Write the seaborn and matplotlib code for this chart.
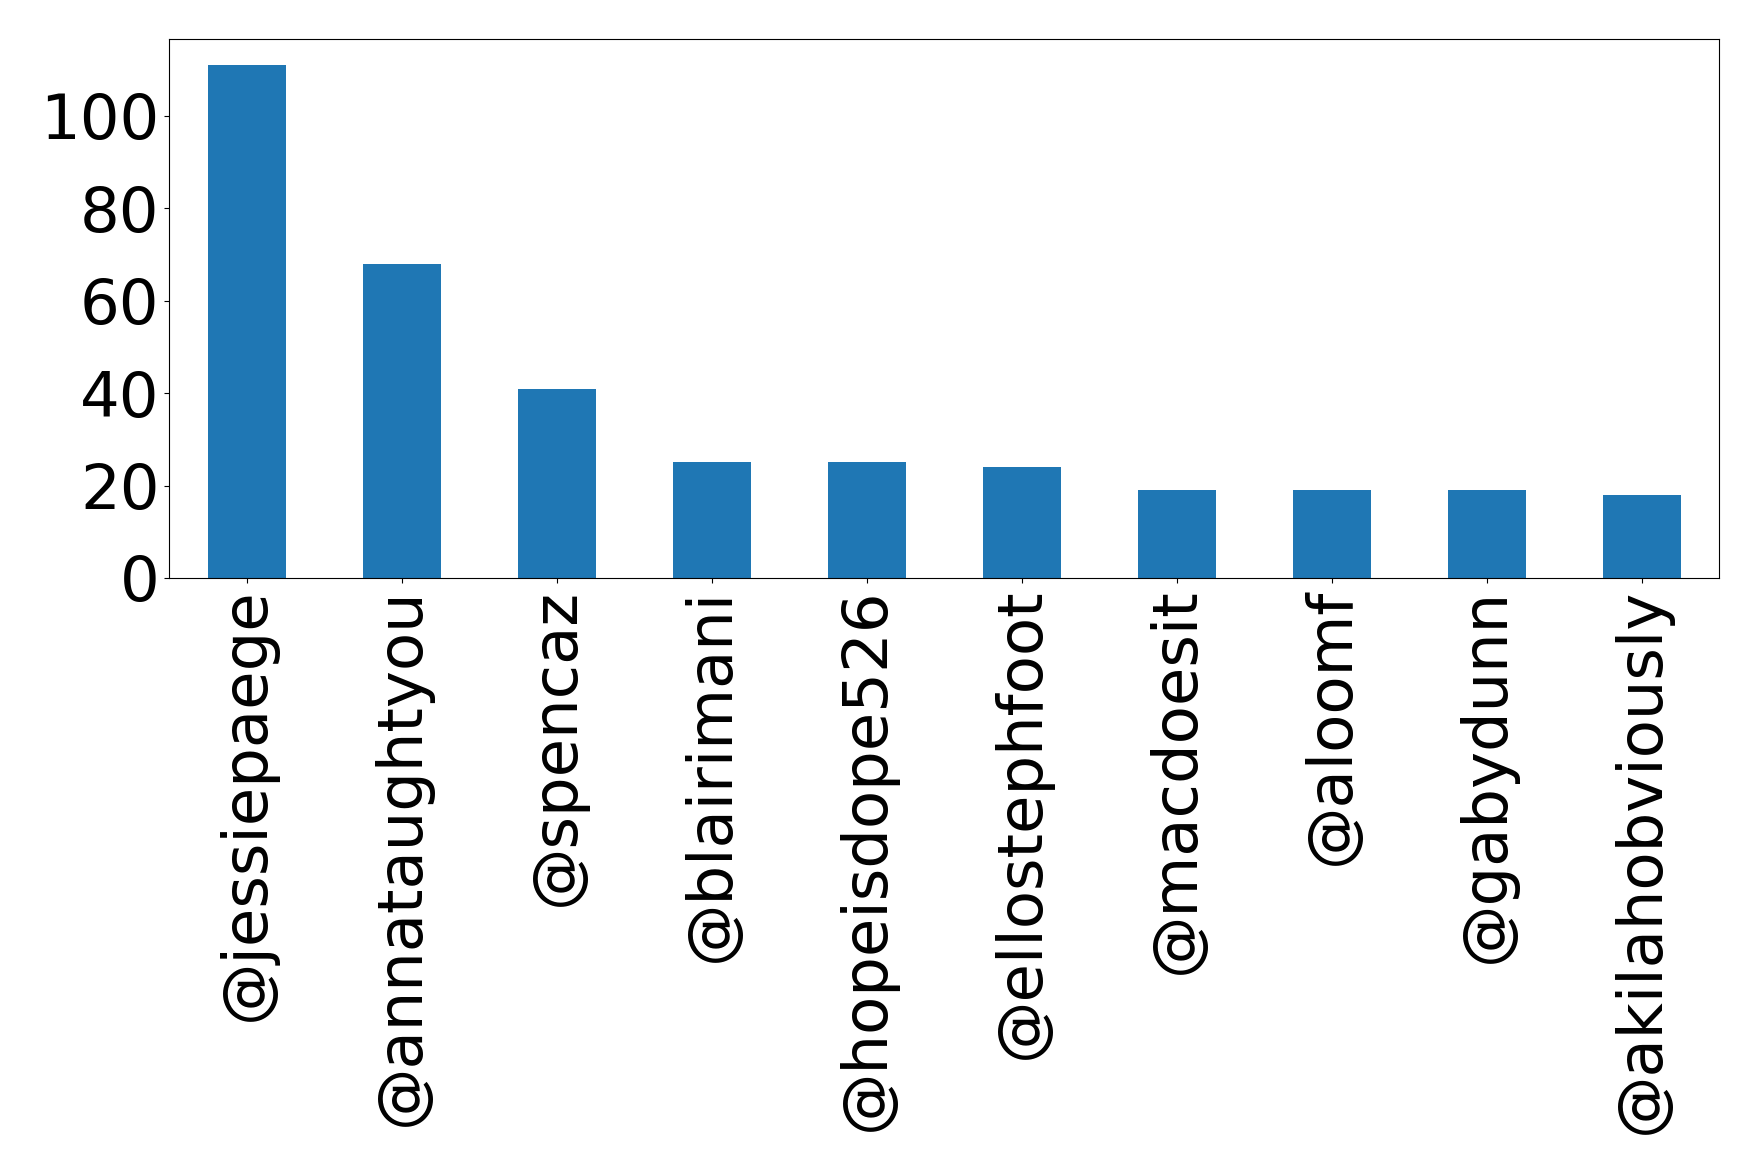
import matplotlib
matplotlib.use("Agg")
import matplotlib.pyplot as plt
import seaborn as sns
import pandas as pd

handles = ["@jessiepaege", "@annataughtyou", "@spencaz", "@blairimani",
           "@hopeisdope526", "@ellostephfoot", "@macdoesit", "@aloomf",
           "@gabydunn", "@akilahobviously"]
counts = [111, 68, 41, 25, 25, 24, 19, 19, 19, 18]
y_ticks = [0, 20, 40, 60, 80, 100]

df = pd.DataFrame({"handle": handles, "count": counts})

fig = plt.figure(figsize=(17.58, 11.74), dpi=100)
ax = fig.add_axes([0.0963, 0.5077, 0.978 - 0.0963, 0.9664 - 0.5077])

sns.barplot(data=df, x="handle", y="count", color="#1f77b4", saturation=1,
            width=0.5, ax=ax)

ax.set_xlim(-0.5, len(handles) - 0.5)
ax.set_ylim(0, max(counts) * 1.05)
ax.set_yticks(y_ticks)
ax.set_xlabel("")
ax.set_ylabel("")
ax.tick_params(axis="both", labelsize=45)
ax.tick_params(axis="x", labelrotation=90)
for side in ax.spines.values():
    side.set_color("black")
    side.set_linewidth(0.8)

fig.savefig("out.png", dpi=100)
